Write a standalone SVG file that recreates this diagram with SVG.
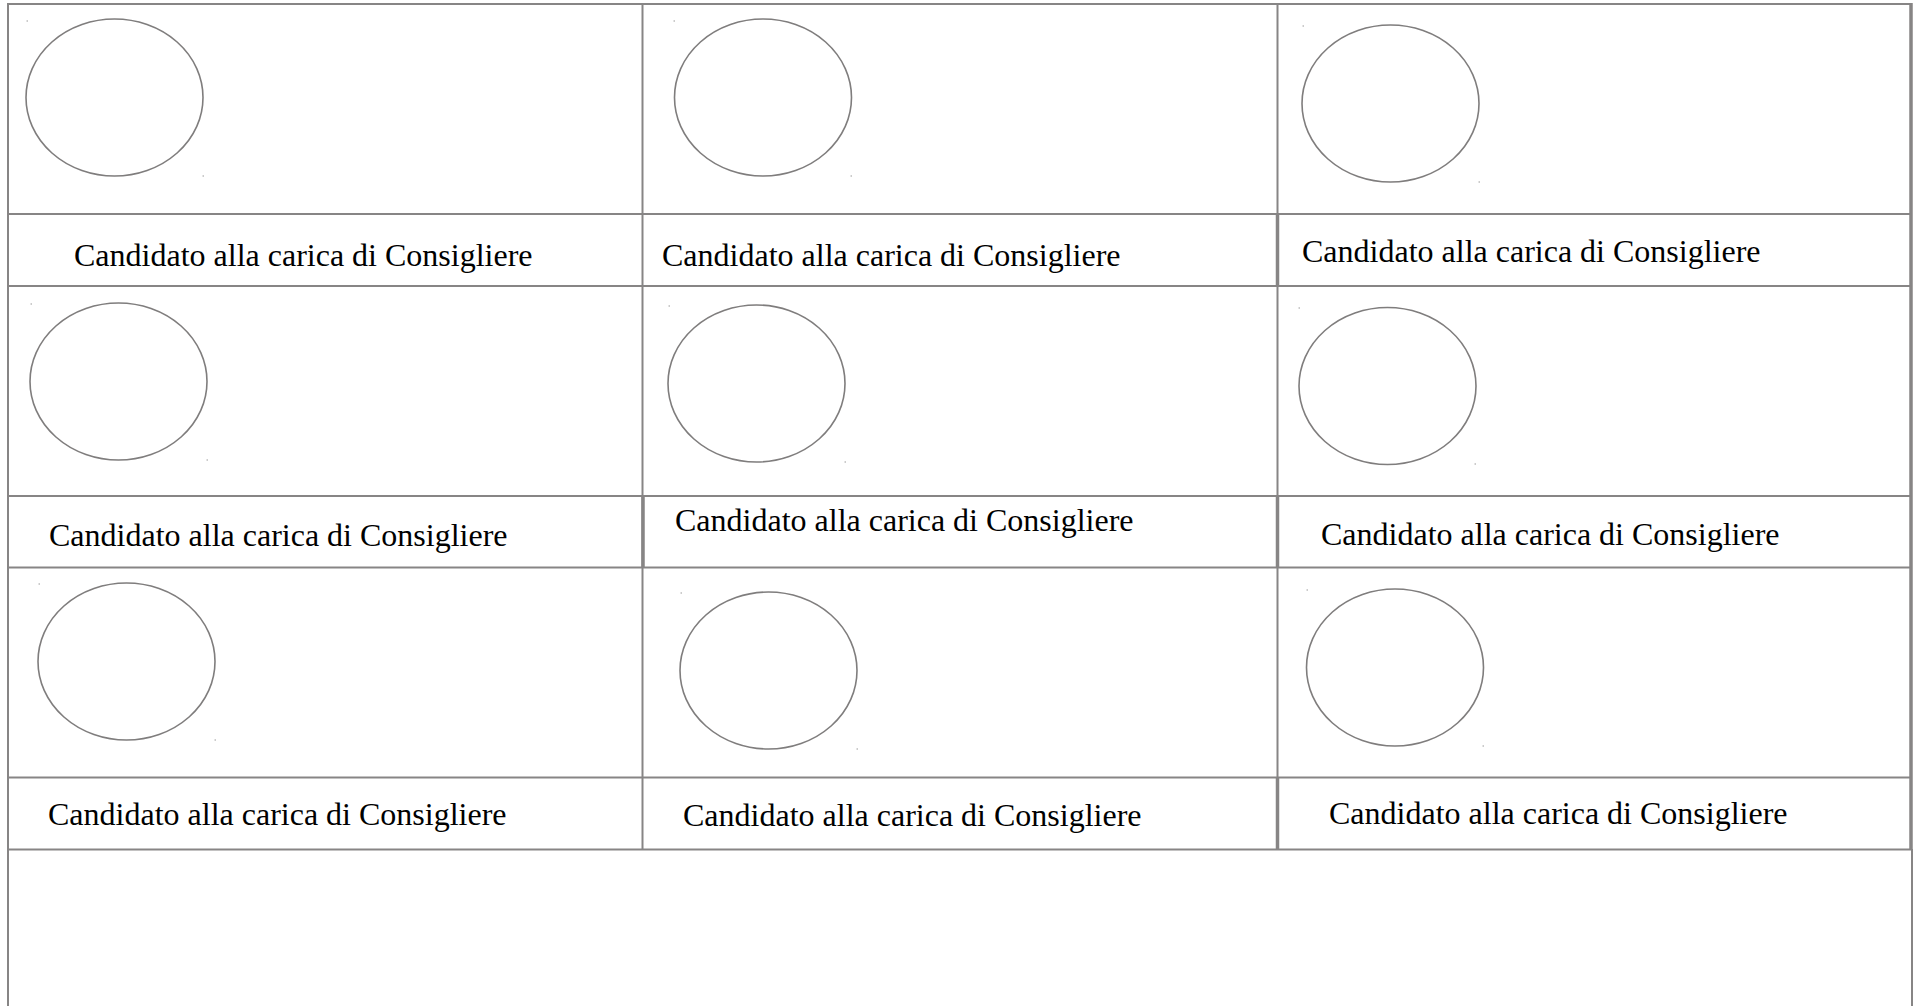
<svg xmlns="http://www.w3.org/2000/svg" width="1916" height="1006" viewBox="0 0 1916 1006">
<style>
.g{stroke:#878585;stroke-width:2;fill:none}
.gt{stroke:#878585;stroke-width:3.5;fill:none}
.e{stroke:#7f7d7d;stroke-width:1.6;fill:none}
.d{fill:#9a9a9a}
.t{font-family:"Liberation Serif","Times New Roman",serif;font-size:32px;fill:#000}
</style>
<rect x="0" y="0" width="1916" height="1006" fill="#ffffff"/>
<g id="grid">
<line class="g" x1="7" y1="4" x2="1912" y2="4"/>
<line class="g" x1="7" y1="214" x2="1912" y2="214"/>
<line class="g" x1="7" y1="286" x2="1912" y2="286"/>
<line class="g" x1="7" y1="496" x2="1912" y2="496"/>
<line class="g" x1="7" y1="567.5" x2="1912" y2="567.5"/>
<line class="g" x1="7" y1="777.5" x2="1912" y2="777.5"/>
<line class="g" x1="7" y1="849.5" x2="1912" y2="849.5"/>
<line class="g" x1="8" y1="3" x2="8" y2="1006"/>
<line class="gt" x1="1911" y1="3" x2="1911" y2="850"/>
<line class="g" x1="1912" y1="849" x2="1912" y2="1006"/>
<line class="g" x1="642.5" y1="3" x2="642.5" y2="850"/>
<line class="g" x1="1277.5" y1="3" x2="1277.5" y2="850"/>
<line class="gt" x1="643" y1="496" x2="643" y2="568"/>
<line class="gt" x1="1277.5" y1="214" x2="1277.5" y2="286"/>
<line class="gt" x1="1277.5" y1="496" x2="1277.5" y2="568"/>
<line class="gt" x1="1277.5" y1="777" x2="1277.5" y2="850"/>
<line class="g" x1="1277" y1="496" x2="1912" y2="496" stroke-width="3"/>
</g>
<g id="cell-1-1">
<ellipse class="e" cx="114.5" cy="97.5" rx="88.5" ry="78.5"/>
<rect class="d" x="26.5" y="20.5" width="1.5" height="1"/><rect class="d" x="202.5" y="175.5" width="1.5" height="1"/>
<text class="t" x="74" y="265.5">Candidato alla carica di Consigliere</text>
</g>
<g id="cell-1-2">
<ellipse class="e" cx="763" cy="97.5" rx="88.5" ry="78.5"/>
<rect class="d" x="673.5" y="20.5" width="1.5" height="1"/><rect class="d" x="850.5" y="175.5" width="1.5" height="1"/>
<text class="t" x="662" y="265.5">Candidato alla carica di Consigliere</text>
</g>
<g id="cell-1-3">
<ellipse class="e" cx="1390.5" cy="103.5" rx="88.5" ry="78.5"/>
<rect class="d" x="1302.5" y="25.5" width="1.5" height="1"/><rect class="d" x="1478.5" y="181.5" width="1.5" height="1"/>
<text class="t" x="1302" y="261.5">Candidato alla carica di Consigliere</text>
</g>
<g id="cell-2-1">
<ellipse class="e" cx="118.5" cy="381.5" rx="88.5" ry="78.5"/>
<rect class="d" x="30.5" y="303.5" width="1.5" height="1"/><rect class="d" x="206.5" y="459.5" width="1.5" height="1"/>
<text class="t" x="49" y="545.5">Candidato alla carica di Consigliere</text>
</g>
<g id="cell-2-2">
<ellipse class="e" cx="756.5" cy="383.5" rx="88.5" ry="78.5"/>
<rect class="d" x="668.5" y="305.5" width="1.5" height="1"/><rect class="d" x="844.5" y="461.5" width="1.5" height="1"/>
<text class="t" x="675" y="530.5">Candidato alla carica di Consigliere</text>
</g>
<g id="cell-2-3">
<ellipse class="e" cx="1387.5" cy="386" rx="88.5" ry="78.5"/>
<rect class="d" x="1298.5" y="307.5" width="1.5" height="1"/><rect class="d" x="1474.5" y="463.5" width="1.5" height="1"/>
<text class="t" x="1321" y="544.5">Candidato alla carica di Consigliere</text>
</g>
<g id="cell-3-1">
<ellipse class="e" cx="126.5" cy="661.5" rx="88.5" ry="78.5"/>
<rect class="d" x="38.5" y="583.5" width="1.5" height="1"/><rect class="d" x="214.5" y="739.5" width="1.5" height="1"/>
<text class="t" x="48" y="824.5">Candidato alla carica di Consigliere</text>
</g>
<g id="cell-3-2">
<ellipse class="e" cx="768.5" cy="670.5" rx="88.5" ry="78.5"/>
<rect class="d" x="680.5" y="592.5" width="1.5" height="1"/><rect class="d" x="856.5" y="748.5" width="1.5" height="1"/>
<text class="t" x="683" y="825.5">Candidato alla carica di Consigliere</text>
</g>
<g id="cell-3-3">
<ellipse class="e" cx="1395" cy="667.5" rx="88.5" ry="78.5"/>
<rect class="d" x="1306.5" y="589.5" width="1.5" height="1"/><rect class="d" x="1482.5" y="745.5" width="1.5" height="1"/>
<text class="t" x="1329" y="823.5">Candidato alla carica di Consigliere</text>
</g>
</svg>
